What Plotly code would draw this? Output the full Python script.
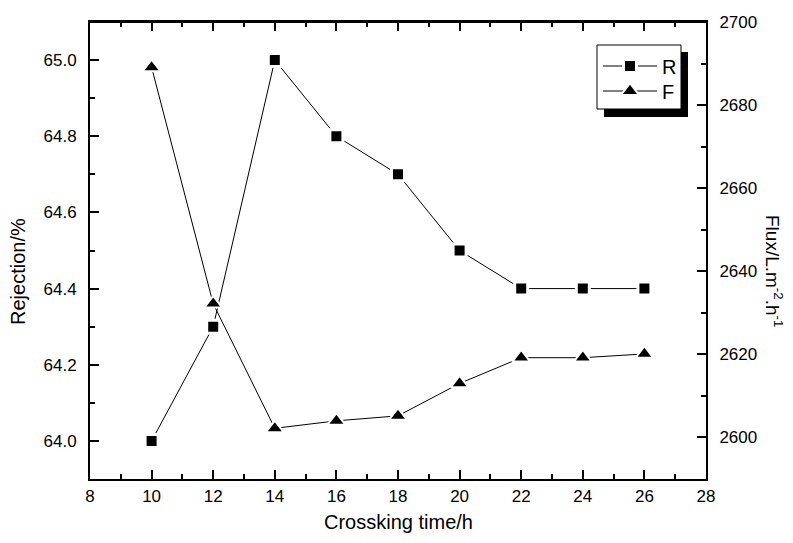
import plotly.graph_objects as go

time_h = [10, 12, 14, 16, 18, 20, 22, 24, 26]
rejection = [64.0, 64.3, 65.0, 64.8, 64.7, 64.5, 64.4, 64.4, 64.4]
flux = [2689.1, 2632.2, 2602.2, 2604.0, 2605.2, 2613.0, 2619.2, 2619.2, 2620.1]

FONT = "Liberation Sans, Arial, sans-serif"

# plot area in pixels
L, R, T, B = 90, 706, 22, 479
W, H = 793, 543
PW, PH = R - L, B - T


def px(x):
    return (x - L) / PW


def py(y):
    return (B - y) / PH


fig = go.Figure()
fig.add_trace(go.Scatter(
    x=time_h, y=rejection, name="R", mode="lines+markers",
    line=dict(color="black", width=1),
    marker=dict(symbol="square", size=13, color="black", line=dict(color="white", width=3)),
    yaxis="y", legend="legend"))
fig.add_trace(go.Scatter(
    x=time_h, y=flux, name="F", mode="lines+markers",
    line=dict(color="black", width=1),
    marker=dict(symbol="triangle-up", size=15.5, color="black", line=dict(color="white", width=2)),
    yaxis="y2", legend="legend2"))

axis_common = dict(showgrid=False, zeroline=False, showline=True, linecolor="black", linewidth=2,
                   ticks="inside", ticklen=9, tickwidth=1.5, tickcolor="black",
                   tickfont=dict(family=FONT, size=17, color="black"))
minor_common = dict(ticks="inside", ticklen=5, tickwidth=1.5, tickcolor="black")

leg_common = dict(xanchor="left", yanchor="middle", bgcolor="rgba(0,0,0,0)", borderwidth=0,
                  font=dict(family=FONT, size=20, color="black"), itemwidth=54)

fig.update_layout(
    width=W, height=H,
    margin=dict(l=L, r=W - R, t=T, b=H - B),
    paper_bgcolor="white", plot_bgcolor="white",
    font=dict(family=FONT, color="black"),
    showlegend=True,
    legend=dict(x=px(598), y=py(66), **leg_common),
    legend2=dict(x=px(598), y=py(91), **leg_common),
    xaxis=dict(range=[8, 28], tick0=8, dtick=2, mirror="ticks",
               minor=dict(dtick=1, **minor_common), ticklabelstandoff=1, **axis_common),
    yaxis=dict(range=[63.9, 65.1], tick0=64.0, dtick=0.2, tickformat=".1f",
               minor=dict(dtick=0.1, **minor_common), ticklabelstandoff=8, **axis_common),
    yaxis2=dict(range=[2590, 2700], tick0=2600, dtick=20, overlaying="y", side="right",
                minor=dict(dtick=10, **minor_common), ticklabelstandoff=8, **axis_common),
)

# top frame line
fig.add_shape(type="line", xref="paper", yref="paper", x0=0, x1=1, y0=1, y1=1,
              line=dict(color="black", width=2), layer="above")

# legend shadow and box
fig.add_shape(type="rect", xref="paper", yref="paper",
              x0=px(604), x1=px(688), y0=py(117), y1=py(52),
              fillcolor="black", line=dict(width=0), layer="above")
fig.add_shape(type="rect", xref="paper", yref="paper",
              x0=px(597), x1=px(681), y0=py(109), y1=py(45),
              fillcolor="white", line=dict(color="black", width=1), layer="above")

fig.add_annotation(text="Crossking time/h", xref="paper", yref="paper", x=0.5, y=py(522),
                   xanchor="center", yanchor="middle", showarrow=False,
                   font=dict(family=FONT, size=20, color="black"))
fig.add_annotation(text="Rejection/%", xref="paper", yref="paper", x=px(18), y=py(272),
                   xanchor="center", yanchor="middle", showarrow=False, textangle=-90,
                   font=dict(family=FONT, size=20, color="black"))
fig.add_annotation(text="Flux/L.m<sup>-2</sup>.h<sup>-1</sup>", xref="paper", yref="paper",
                   x=px(774), y=py(271), xanchor="center", yanchor="middle", showarrow=False,
                   textangle=90, font=dict(family=FONT, size=19, color="black"))

fig.write_html("out.html", config={"displayModeBar": False},
               post_script="document.body.style.margin='0';document.body.style.overflow='hidden';")
